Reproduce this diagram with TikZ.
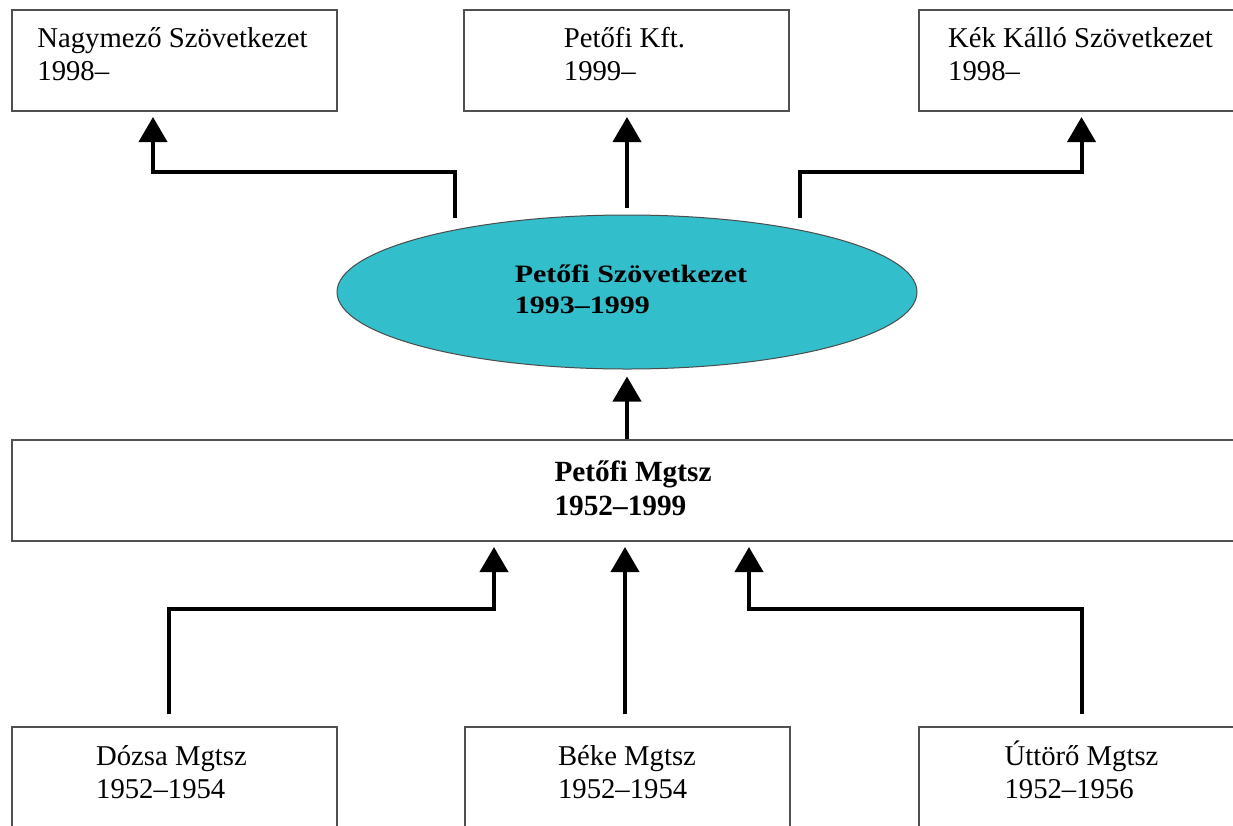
\documentclass[tikz,border=0pt]{standalone}
\usepackage{fontspec}
\setmainfont{Liberation Serif}
\newfontfamily\ellfont[FakeStretch=1.2]{Liberation Serif}
\usetikzlibrary{arrows.meta,shapes.geometric,calc}
\definecolor{boxgray}{RGB}{80,80,80}
\definecolor{teal}{RGB}{51,190,204}
\newcommand\myst{\rule{0pt}{28pt}}
\newcommand\myse{\rule{0pt}{25pt}}
\tikzset{
  box/.style={draw=boxgray, line width=2pt, fill=white, minimum width=325pt, minimum height=101pt, inner sep=0pt},
  wide/.style={box, minimum width=1232pt},
  txt/.style={font=\fontsize{28.7}{33.5}\selectfont, align=left, inner sep=0pt, anchor=north},
  etxt/.style={font=\ellfont\bfseries\fontsize{25}{31}\selectfont, align=left, inner sep=0pt, anchor=north},
  btxt/.style={txt, font=\bfseries\fontsize{29.3}{34.5}\selectfont},
  oval/.style={ellipse, draw=gray!60!black, line width=1pt, fill=teal, minimum width=580pt, minimum height=154pt, inner sep=0pt},
  conn/.style={line width=4pt, line join=miter, -{Triangle[width=28pt,length=25pt]}}
}
\begin{document}
\begin{tikzpicture}[x=1pt,y=-1pt]
\useasboundingbox (0,0) rectangle (1233,825);
\fill[white] (0,0) rectangle (1233,825);
\clip (0,0) rectangle (1233,825);
% boxes
\node[box] (nagy) at (174.5,60.5) {};
\node[box] (kft) at (626.5,60.5) {};
\node[box] (kek) at (1081.5,60.5) {};
\node[oval] (ell) at (627,292) {};
\node[wide] (mgtsz) at (628,490.5) {};
\node[box] (dozsa) at (174.5,777.5) {};
\node[box] (beke) at (627,777.5) {};
\node[box] (uttoro) at (1081.5,777.5) {};
% texts
\node[txt] (tnagy) at ($(nagy.north)+(-2,10)$) {\myst Nagymező Szövetkezet\\1998–};
\node[txt] (tkft) at ($(kft.north)+(-2,10)$) {\myst Petőfi Kft.\\1999–};
\node[txt] (tkek) at ($(kek.north)+(-1,10)$) {\myst Kék Kálló Szövetkezet\\1998–};
\node[etxt] (tell) at ($(ell.center)+(4,-35)$) {\myse Petőfi Szövetkezet\\1993–1999};
\node[btxt] (tmgtsz) at ($(mgtsz.north)+(5,14)$) {\myst Petőfi Mgtsz\\1952–1999};
\node[txt] (tdozsa) at ($(dozsa.north)+(-3,11)$) {\myst Dózsa Mgtsz\\1952–1954};
\node[txt] (tbeke) at ($(beke.north)+(0,11)$) {\myst Béke Mgtsz\\1952–1954};
\node[txt] (tuttoro) at ($(uttoro.north)+(0,11)$) {\myst Úttörő Mgtsz\\1952–1956};
% connectors
\draw[conn] ($(ell.north)+(-172,3)$) -- ++(0,-46) -| ($(nagy.south)+(-21.5,5)$);
\draw[conn] ($(ell.north)+(0,-7)$) -- ($(kft.south)+(0.5,5)$);
\draw[conn] ($(ell.north)+(173,3)$) -- ++(0,-46) -| ($(kek.south)+(0,5)$);
\draw[conn] ($(mgtsz.north)+(-1,0)$) -- ($(ell.south)+(0,7)$);
\draw[conn] ($(dozsa.north)+(-5.5,-12)$) -- ++(0,-105) -| ($(mgtsz.south)+(-134,5)$);
\draw[conn] ($(beke.north)+(-2,-12)$) -- ($(mgtsz.south)+(-3,5)$);
\draw[conn] ($(uttoro.north)+(0.5,-12)$) -- ++(0,-105) -| ($(mgtsz.south)+(121,5)$);
\end{tikzpicture}
\end{document}
